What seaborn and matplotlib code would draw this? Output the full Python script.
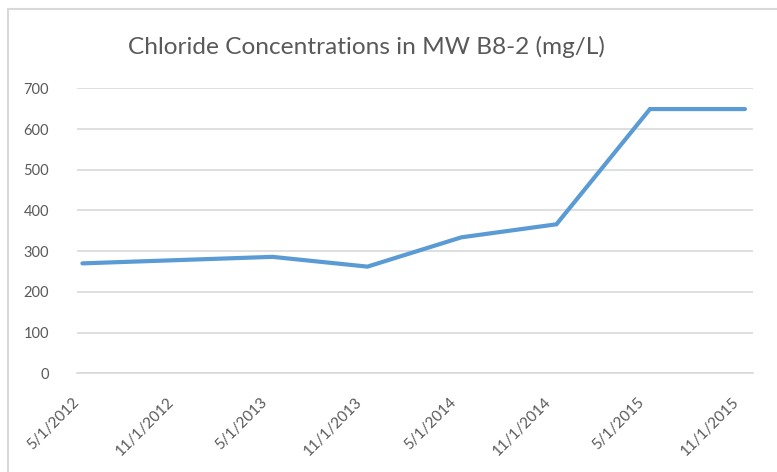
import pandas as pd
import matplotlib.pyplot as plt
import matplotlib.transforms as mtransforms
import seaborn as sns

# sample dates and chloride values (mg/L)
dates = ['2012-05-12', '2013-05-15', '2013-11-15', '2014-05-16',
         '2014-11-16', '2015-05-16', '2015-11-16']
chloride = [270, 286, 262, 334, 366, 649, 649]
tick_dates = ['2012-05-01', '2012-11-01', '2013-05-01', '2013-11-01',
              '2014-05-01', '2014-11-01', '2015-05-01', '2015-11-01']
tick_labels = ['5/1/2012', '11/1/2012', '5/1/2013', '11/1/2013',
               '5/1/2014', '11/1/2014', '5/1/2015', '11/1/2015']
y_ticks = [0, 100, 200, 300, 400, 500, 600, 700]

df = pd.DataFrame({'date': pd.to_datetime(dates), 'chloride': chloride})

sns.set_style('white')
plt.rcParams['font.family'] = ['Lato', 'DejaVu Sans']

grey_text = '#595959'
grid_col = '#d9d9d9'

fig = plt.figure(figsize=(7.77, 4.72), dpi=100)
ax = fig.add_axes([76.7 / 777, 1 - 373.3 / 472, (752.7 - 76.7) / 777, (373.3 - 88.3) / 472])

sns.lineplot(data=df, x='date', y='chloride', ax=ax, color='#5b9bd5',
             linewidth=3.0, solid_joinstyle='miter', solid_capstyle='round')

ax.set_ylim(0, 700)
ax.set_yticks(y_ticks)
ax.set_xlim(pd.Timestamp('2012-05-01'), pd.Timestamp('2015-12-01'))
ax.set_xticks(pd.to_datetime(tick_dates))
ax.set_xticklabels(tick_labels, rotation=45, ha='right', va='center',
                   rotation_mode='anchor')

# shift the rotated labels a little to the right, like Excel does
shift = mtransforms.ScaledTranslation(8 / 100, 0, fig.dpi_scale_trans)
for lab in ax.get_xticklabels():
    lab.set_transform(lab.get_transform() + shift)

ax.grid(axis='y', color=grid_col, linewidth=1.2)
ax.set_axisbelow(True)
for side in ['left', 'right', 'top']:
    ax.spines[side].set_visible(False)
ax.spines['bottom'].set_color(grid_col)
ax.spines['bottom'].set_linewidth(1.2)

ax.tick_params(axis='y', length=0, pad=20, labelsize=10.5, labelcolor=grey_text)
ax.tick_params(axis='x', length=7, width=1.2, color=grid_col, direction='out',
               pad=12, labelsize=11, labelcolor=grey_text)
ax.set_xlabel('')
ax.set_ylabel('')

fig.text(366 / 777, 1 - 47 / 472, 'Chloride Concentrations in MW B8-2 (mg/L)',
         ha='center', va='center', fontsize=17.6, color=grey_text)

# chart frame (left and top edges visible)
frame = plt.Rectangle((8 / 777, -0.1), 1.0, 1 - 9 / 472 + 0.1,
                      transform=fig.transFigure, fill=False,
                      edgecolor=grid_col, linewidth=1.5)
fig.patches.append(frame)

fig.savefig('out.png', dpi=100)
